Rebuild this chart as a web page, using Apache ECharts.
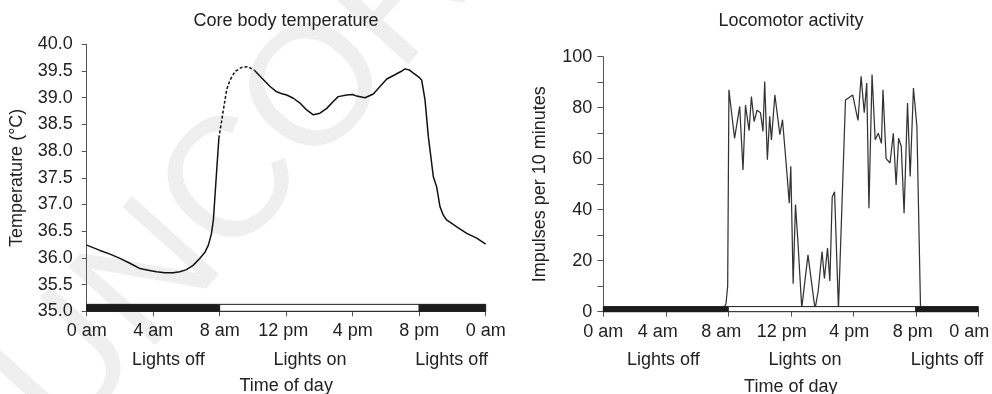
<!DOCTYPE html>
<html><head><meta charset="utf-8">
<script src="https://cdn.jsdelivr.net/npm/echarts@6/dist/echarts.min.js"></script>
<style>html,body{margin:0;padding:0;background:#fff}#c{width:992px;height:394px}</style>
</head><body><div id="c"></div>
<script>
// ---- data ----
const timeTickLabels = ['0 am', '4 am', '8 am', '12 pm', '4 pm', '8 pm', '0 am'];
const lightPhases = [[0, 8, 0], [8, 20, 1], [20, 24, 0]]; // [start hour, end hour, lights on?]
const lightLabels = ['Lights off', 'Lights on', 'Lights off'];
const chartTitles = ['Core body temperature', 'Locomotor activity'];
const yNames = ['Temperature (°C)', 'Impulses per 10 minutes'];
const xName = 'Time of day';
const watermark = 'UNCORRECTED PROOF';

// core body temperature, [hour, °C] (solid part)
const tempSolid = [
  [0, 36.24], [0.8, 36.14], [1.4, 36.07], [2.0, 35.99], [2.6, 35.9], [3.2, 35.80], [3.7, 35.77],
  [4.2, 35.74], [4.7, 35.72], [5.2, 35.72], [5.6, 35.74], [6.0, 35.78], [6.4, 35.86], [6.8, 35.99],
  [7.1, 36.1], [7.32, 36.24], [7.5, 36.45], [7.62, 36.71], [7.78, 37.46], [7.95, 38.24],
  [8.0, null],
  [10.1, 39.51], [10.53, 39.37], [11.03, 39.21], [11.43, 39.11], [11.7, 39.08], [12.03, 39.05],
  [12.43, 38.99], [12.83, 38.9], [13.23, 38.77], [13.63, 38.68], [14.03, 38.71], [14.44, 38.8],
  [14.83, 38.93], [15.13, 39.02], [15.64, 39.05], [16.0, 39.06], [16.24, 39.03], [16.74, 39.0],
  [17.24, 39.07], [17.64, 39.21], [18.05, 39.35], [18.54, 39.43], [18.9, 39.49], [19.15, 39.54],
  [19.4, 39.52], [19.65, 39.46], [20.0, 39.38], [20.15, 39.33], [20.35, 38.96], [20.55, 38.27],
  [20.85, 37.52], [21.05, 37.33], [21.25, 36.96], [21.45, 36.8], [21.65, 36.71], [22.26, 36.58],
  [22.86, 36.46], [23.46, 36.37], [24, 36.26]
];
// core body temperature, dashed part
const tempDashed = [
  [7.95, 38.24], [8.22, 38.77], [8.42, 39.15], [8.62, 39.33], [8.92, 39.49], [9.32, 39.57],
  [9.72, 39.58], [10.1, 39.51]
];
// locomotor activity, [hour, impulses per 10 min]
const activity = [
  [0, 0], [7.6, 0], [7.85, 3], [7.96, 10], [8.04, 87], [8.4, 68], [8.73, 80.5], [8.94, 55.6],
  [9.1, 81], [9.33, 71], [9.48, 84.4], [9.65, 74.6], [9.84, 79], [10.06, 78], [10.22, 70.7],
  [10.33, 90.3], [10.5, 59.6], [10.65, 76.6], [10.76, 67.4], [10.98, 85], [11.3, 69.4],
  [11.47, 75.3], [11.77, 53], [11.9, 42.5], [12.0, 57], [12.15, 11], [12.3, 42], [12.45, 28],
  [12.7, 1.5], [13.1, 22.3], [13.55, 1], [13.75, 8], [14.0, 23.6], [14.15, 13], [14.35, 25],
  [14.5, 12], [14.65, 45], [14.8, 47], [15.05, 1], [15.5, 83], [15.96, 85], [16.3, 75],
  [16.5, 92.3], [16.7, 78], [16.86, 89.7], [17.0, 40.6], [17.2, 93], [17.4, 67.4], [17.6, 70],
  [17.8, 66], [17.9, 87], [18.1, 60], [18.35, 58.3], [18.56, 70], [18.74, 49.7], [18.9, 68],
  [19.07, 64.8], [19.25, 38.6], [19.47, 81.8], [19.64, 53], [19.85, 87.7], [20.07, 72.6],
  [20.3, 2], [20.4, 0], [24, 0]
];

// ---- chart ----
const FONT = "'Liberation Sans', Arial, Helvetica, sans-serif";
const TXT = '#222';
const FS = 18;
const chart = echarts.init(document.getElementById('c'), null, {renderer: 'canvas'});

function lightRenderer(barTop) {
  return function (params, api) {
    const p0 = api.coord([api.value(0), api.value(3)]);
    const p1 = api.coord([api.value(1), barTop]);
    const on = api.value(2) === 1;
    return {
      type: 'rect',
      shape: {x: p0[0], y: p1[1], width: p1[0] - p0[0], height: p0[1] - p1[1]},
      style: {fill: on ? '#fff' : '#1b1b1b', stroke: '#1b1b1b', lineWidth: 1}
    };
  };
}

// small horizontal nudges of tick labels (px, negative = left), styling only
const labelNudge = [
  [0, 0, 0, -3, 0, 0, 0],
  [0, -8, -7, -9, -4, -3, -9]
];

const xAxisBase = (gi) => {
  const rich = {};
  labelNudge[gi].forEach((n, i) => {
    rich['n' + i] = {
      fontFamily: FONT, fontSize: FS, color: TXT,
      padding: n < 0 ? [0, -2 * n, 0, 0] : [0, 0, 0, 2 * n]
    };
  });
  return {
    type: 'value', gridIndex: gi, min: 0, max: 24, interval: 4,
    axisLine: {show: true, lineStyle: {color: '#555', width: 1}},
    axisTick: {show: true, length: 5, lineStyle: {color: '#555'}},
    splitLine: {show: false},
    axisLabel: {
      formatter: (v) => {
        const i = Math.round(v / 4);
        return '{n' + i + '|' + timeTickLabels[i] + '}';
      },
      rich: rich,
      color: TXT, fontFamily: FONT, fontSize: FS, margin: 11
    },
    name: xName, nameLocation: 'middle', nameGap: 66,
    nameTextStyle: {color: TXT, fontFamily: FONT, fontSize: FS}
  };
};

const lightText = (x, t) => ({
  type: 'text', x: x, y: 360, z: 10,
  style: {text: t, fill: TXT, font: FS + 'px ' + FONT, align: 'center', verticalAlign: 'middle'}
});

chart.setOption({
  animation: false,
  backgroundColor: '#fff',
  grid: [
    {left: 86.7, right: 992 - 485.7, top: 44.3, bottom: 394 - 311.3, outerBoundsMode: 'none', containLabel: false},
    {left: 603.3, right: 992 - 978.3, top: 56.7, bottom: 394 - 311.7, outerBoundsMode: 'none', containLabel: false}
  ],
  xAxis: [xAxisBase(0), xAxisBase(1)],
  yAxis: [
    {
      type: 'value', gridIndex: 0, min: 35, max: 40, interval: 0.5,
      axisLine: {show: true, lineStyle: {color: '#555'}},
      axisTick: {show: true, length: 5, lineStyle: {color: '#555'}},
      splitLine: {show: false},
      axisLabel: {formatter: (v) => v.toFixed(1), color: TXT, fontFamily: FONT, fontSize: FS, margin: 14},
      name: yNames[0], nameLocation: 'middle', nameRotate: 90, nameGap: 61,
      nameTextStyle: {color: TXT, fontFamily: FONT, fontSize: FS}
    },
    {
      type: 'value', gridIndex: 1, min: 0, max: 100, interval: 10,
      axisLine: {show: true, lineStyle: {color: '#555'}},
      axisTick: {show: true, length: 6, lineStyle: {color: '#555'}},
      splitLine: {show: false},
      axisLabel: {formatter: (v) => (Math.round(v) % 20 === 0 ? String(Math.round(v)) : ''), color: TXT, fontFamily: FONT, fontSize: FS, margin: 11},
      name: yNames[1], nameLocation: 'middle', nameRotate: 90, nameGap: 54,
      nameTextStyle: {color: TXT, fontFamily: FONT, fontSize: FS}
    }
  ],
  graphic: [
    {type: 'text', x: 29, y: 415, rotation: 48 * Math.PI / 180, z: -10, silent: true,
     style: {text: watermark, fill: '#efefef', font: '170px ' + FONT, align: 'left', verticalAlign: 'middle'}},
    {type: 'text', x: 286, y: 21, z: 10, style: {text: chartTitles[0], fill: TXT, font: FS + 'px ' + FONT, align: 'center', verticalAlign: 'middle'}},
    {type: 'text', x: 791, y: 21, z: 10, style: {text: chartTitles[1], fill: TXT, font: FS + 'px ' + FONT, align: 'center', verticalAlign: 'middle'}},
    lightText(168.3, lightLabels[0]), lightText(310, lightLabels[1]), lightText(451.7, lightLabels[2]),
    lightText(663.3, lightLabels[0]), lightText(805, lightLabels[1]), lightText(947, lightLabels[2])
  ],
  series: [
    {
      type: 'line', xAxisIndex: 0, yAxisIndex: 0, data: tempSolid, showSymbol: false, symbol: 'none',
      connectNulls: false, lineStyle: {color: '#111', width: 1.5}, z: 2
    },
    {
      type: 'line', xAxisIndex: 0, yAxisIndex: 0, data: tempDashed, showSymbol: false, symbol: 'none',
      lineStyle: {color: '#111', width: 1.5, type: [3, 2]}, z: 2
    },
    {
      type: 'custom', xAxisIndex: 0, yAxisIndex: 0,
      data: lightPhases.map(p => [p[0], p[1], p[2], 35]),
      encode: {x: [0, 1], y: 3},
      renderItem: lightRenderer(35.13), z: 5, clip: false
    },
    {
      type: 'line', xAxisIndex: 1, yAxisIndex: 1, data: activity, showSymbol: false, symbol: 'none',
      lineStyle: {color: '#333', width: 1.25}, z: 2
    },
    {
      type: 'custom', xAxisIndex: 1, yAxisIndex: 1,
      data: lightPhases.map(p => [p[0], p[1], p[2], 0]),
      encode: {x: [0, 1], y: 3},
      renderItem: lightRenderer(2), z: 5, clip: false
    }
  ]
});
</script>
</body></html>
